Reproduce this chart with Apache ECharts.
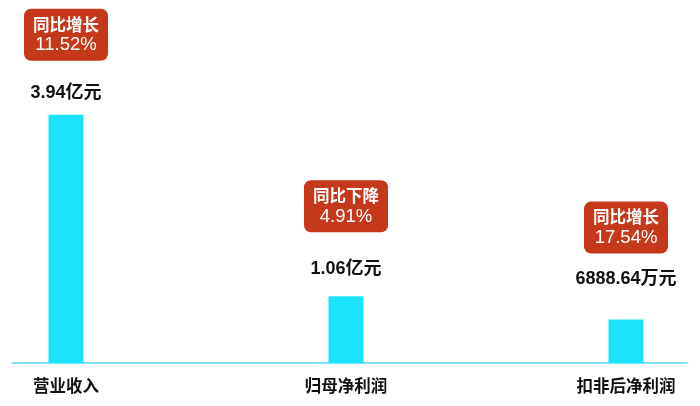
<!DOCTYPE html>
<html>
<head>
<meta charset="utf-8">
<script src="https://cdn.jsdelivr.net/npm/echarts@6/dist/echarts.min.js"></script>
<style>
    html, body { margin: 0; padding: 0; background: #fff; }
    #chart { width: 700px; height: 406px; }
</style>
</head>
<body>
<div id="chart"></div>
<script>
// 数据
var categories = ['营业收入', '归母净利润', '扣非后净利润'];
var values = [3.94, 1.06, 0.688864];          // 单位：亿元
var valueTexts = ['3.94亿元', '1.06亿元', '6888.64万元'];
var changeNames = ['同比增长', '同比下降', '同比增长'];
var changeRates = ['11.52%', '4.91%', '17.54%'];

// 标签离柱顶的距离
var valueGaps = [13, 18, 32];
var boxGaps = [54, 64, 66];

var font = '"Liberation Sans", "Noto Sans CJK SC", sans-serif';
var cjkFont = '"Noto Sans CJK SC", sans-serif';
var chart = echarts.init(document.getElementById('chart'));

var valueData = values.map(function (v, i) {
    return { value: v, label: { distance: valueGaps[i] } };
});
var boxData = values.map(function (v, i) {
    return { value: v, label: { distance: boxGaps[i] } };
});

var option = {
    animation: false,
    grid: [
        { left: 66, right: 74, top: 111, bottom: 43 },
        { left: 12, right: 13, top: 111, bottom: 43 }
    ],
    xAxis: [{
        type: 'category',
        gridIndex: 0,
        data: categories,
        boundaryGap: false,
        axisLine: { show: false },
        axisTick: { show: false },
        axisLabel: {
            margin: 14,
            color: '#111',
            fontSize: 16.5,
            fontWeight: 'bold',
            fontFamily: cjkFont
        }
    }, {
        // 贯穿的底线
        type: 'category',
        gridIndex: 1,
        data: categories,
        axisLine: { lineStyle: { color: '#5ad8f3', width: 1.5 } },
        axisTick: { show: false },
        axisLabel: { show: false }
    }],
    yAxis: [{
        type: 'value',
        gridIndex: 0,
        min: 0,
        max: 4,
        show: false
    }, {
        type: 'value',
        gridIndex: 1,
        show: false
    }],
    series: [{
        name: '数值',
        type: 'bar',
        barWidth: 35,
        clip: false,
        itemStyle: { color: '#1de4fd' },
        label: {
            show: true,
            position: 'top',
            color: '#111',
            fontSize: 18,
            fontWeight: 'bold',
            fontFamily: font,
            formatter: function (p) { return valueTexts[p.dataIndex]; }
        },
        data: valueData
    }, {
        name: '同比',
        type: 'bar',
        barWidth: 35,
        barGap: '-100%',
        clip: false,
        silent: true,
        itemStyle: { color: 'rgba(0,0,0,0)' },
        label: {
            show: true,
            position: 'top',
            align: 'center',
            backgroundColor: '#c5391a',
            borderRadius: 7,
            padding: [5, 9, 5, 9],
            formatter: function (p) {
                return '{a|' + changeNames[p.dataIndex] + '}\n{b|' + changeRates[p.dataIndex] + '}';
            },
            rich: {
                a: {
                    color: '#fff',
                    fontSize: 16.5,
                    fontWeight: 'bold',
                    fontFamily: cjkFont,
                    lineHeight: 21,
                    align: 'center'
                },
                b: {
                    color: '#fff',
                    fontSize: 18.5,
                    fontFamily: font,
                    lineHeight: 21,
                    align: 'center'
                }
            }
        },
        data: boxData
    }]
};
chart.setOption(option);
</script>
</body>
</html>
